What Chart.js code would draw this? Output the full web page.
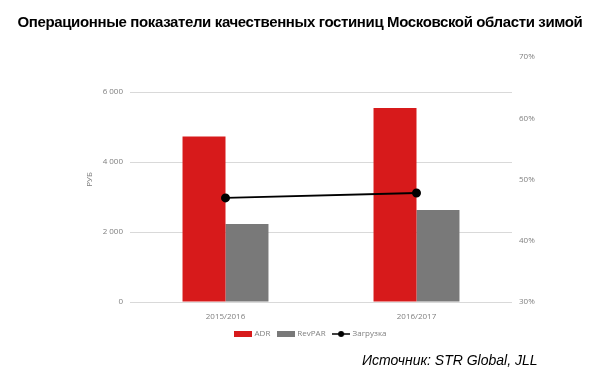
<!DOCTYPE html>
<html><head><meta charset="utf-8">
<script src="https://cdn.jsdelivr.net/npm/chart.js@4/dist/chart.umd.min.js"></script>
<style>
html,body{margin:0;padding:0;background:#fff;}
#wrap{position:relative;width:600px;height:385px;}
#title{position:absolute;left:0;top:13px;width:600px;text-align:center;white-space:nowrap;letter-spacing:-0.37px;font:bold 15px "Liberation Sans",Arial,sans-serif;color:#000;}
#src{position:absolute;left:362px;top:352px;white-space:nowrap;font:italic 14px "Liberation Sans",Arial,sans-serif;color:#000;}
canvas{position:absolute;left:0;top:0;}
</style></head>
<body><div id="wrap">
<canvas id="c" width="600" height="385"></canvas>
<div id="title">Операционные показатели качественных гостиниц Московской области зимой</div>
<div id="src">Источник: STR Global, JLL</div>
</div>
<script>
const categories = ["2015/2016", "2016/2017"];
const adr = [4730, 5540];
const revpar = [2230, 2630];
const occupancy = [47.0, 47.8];
const leftTicks = [0, 2000, 4000, 6000];

const RED = "#d71a1b", GRAY = "#797979";
function swatch(color, line) {
  const c = document.createElement("canvas");
  c.width = 18; c.height = 8;
  const x = c.getContext("2d");
  if (line) {
    x.strokeStyle = color; x.lineWidth = 1.5;
    x.beginPath(); x.moveTo(0, 4); x.lineTo(18, 4); x.stroke();
    x.fillStyle = color; x.beginPath(); x.arc(9, 4, 3, 0, Math.PI * 2); x.fill();
  } else {
    x.fillStyle = color; x.fillRect(0, 1, 18, 6);
  }
  return c;
}
const sw = [swatch(RED), swatch(GRAY), swatch("#000", true)];
const tickFont = {family: "'Open Sans', 'Liberation Sans', sans-serif", size: 8};
const TXT = "#7f7f7f";

new Chart(document.getElementById("c"), {
  data: {
    labels: categories,
    datasets: [
      {type: "bar", label: "ADR", data: adr, backgroundColor: RED, yAxisID: "y", order: 1,
       categoryPercentage: 0.45, barPercentage: 1},
      {type: "bar", label: "RevPAR", data: revpar, backgroundColor: GRAY, yAxisID: "y", order: 1,
       categoryPercentage: 0.45, barPercentage: 1},
      {type: "line", label: "Загрузка", data: occupancy, borderColor: "#000", backgroundColor: "#000",
       borderWidth: 2, pointRadius: 3.5, pointBackgroundColor: "#000", yAxisID: "y1", order: 0}
    ]
  },
  options: {
    responsive: false, animation: false,
    layout: {padding: {top: 57, bottom: 37, left: 22, right: 0}},
    plugins: {
      tooltip: {enabled: false},
      legend: {
        position: "bottom",
        labels: {
          usePointStyle: true, pointStyleWidth: 15, padding: 8,
          color: TXT, font: tickFont,
          sort: (a, b) => a.datasetIndex - b.datasetIndex,
          generateLabels: (chart) => {
            const items = Chart.defaults.plugins.legend.labels.generateLabels(chart);
            items.forEach(it => { it.pointStyle = sw[it.datasetIndex]; });
            return items;
          }
        }
      }
    },
    scales: {
      x: {
        grid: {display: false}, border: {display: false},
        ticks: {color: TXT, font: tickFont, padding: 2},
        afterFit: s => { s.height = 20; }
      },
      y: {
        position: "left", min: 0, max: 7000,
        afterBuildTicks: s => { s.ticks = leftTicks.map(v => ({value: v})); },
        grid: {color: "#d9d9d9", drawTicks: false}, border: {display: false},
        ticks: {color: TXT, font: tickFont, padding: 7,
          callback: v => String(v).replace(/\B(?=(\d{3})+(?!\d))/g, " ")},
        title: {display: true, text: "РУБ", color: TXT, font: tickFont, padding: {top: 63, bottom: 0}},
        afterFit: s => { s.width = 108; }
      },
      y1: {
        position: "right", min: 30, max: 70,
        grid: {display: false, drawTicks: false}, border: {display: false},
        ticks: {stepSize: 10, color: TXT, font: tickFont, padding: 7, callback: v => v + "%"},
        afterFit: s => { s.width = 88; }
      }
    }
  }
});
</script>
</body></html>
